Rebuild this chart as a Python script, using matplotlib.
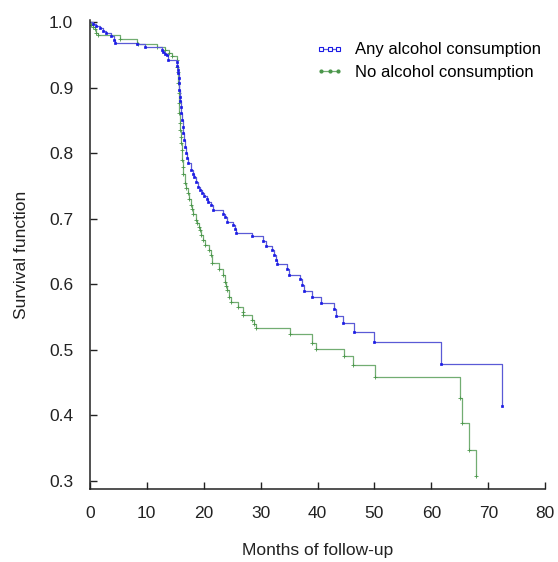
import matplotlib
matplotlib.use("Agg")
import matplotlib.pyplot as plt
from matplotlib.lines import Line2D

plt.rcParams['font.family'] = ['Liberation Sans', 'DejaVu Sans']

# Kaplan-Meier step points (months, survival after the drop)
any_months = [0.53, 1.11, 1.71, 2.29, 2.87, 3.64, 4.22, 4.34, 8.21, 9.67,
              12.61, 12.92, 13.19, 13.59, 13.77, 15.24, 15.35, 15.47, 15.53, 15.60,
              15.65, 15.74, 15.82, 15.89, 15.95, 16.04, 16.12, 16.30, 16.40, 16.53,
              16.70, 16.88, 17.05, 17.28, 17.71, 18.16, 18.37, 18.64, 19.04, 19.34,
              19.64, 20.04, 20.52, 20.84, 21.22, 21.68, 23.44, 23.74, 24.04, 25.09,
              25.49, 25.67, 28.43, 30.37, 30.89, 32.05, 32.35, 32.65, 32.83, 34.69,
              34.99, 36.84, 37.33, 37.63, 38.98, 40.56, 42.90, 43.29, 44.54, 46.45,
              49.97, 61.66, 72.39]
any_surv = [0.997, 0.994, 0.991, 0.987, 0.983, 0.979, 0.973, 0.969, 0.966, 0.962,
            0.957, 0.954, 0.952, 0.950, 0.943, 0.939, 0.933, 0.927, 0.922, 0.915,
            0.907, 0.896, 0.886, 0.880, 0.871, 0.861, 0.851, 0.840, 0.831, 0.820,
            0.809, 0.800, 0.793, 0.785, 0.774, 0.769, 0.764, 0.756, 0.749, 0.744,
            0.739, 0.735, 0.730, 0.725, 0.721, 0.713, 0.708, 0.703, 0.695, 0.690,
            0.684, 0.679, 0.673, 0.666, 0.659, 0.652, 0.645, 0.637, 0.631, 0.623,
            0.615, 0.608, 0.599, 0.590, 0.581, 0.572, 0.562, 0.552, 0.541, 0.528,
            0.512, 0.478, 0.414]

no_months = [0.26, 0.62, 0.88, 1.05, 1.46, 5.27, 8.26, 8.53, 11.78, 13.19,
             13.89, 14.36, 15.35, 15.38, 15.44, 15.53, 15.58, 15.65, 15.74, 15.82,
             15.91, 16.00, 16.05, 16.12, 16.23, 16.32, 16.44, 16.70, 16.97, 17.28,
             17.49, 17.71, 17.93, 18.16, 18.64, 18.90, 19.22, 19.34, 19.46, 19.92,
             20.22, 20.98, 21.22, 21.50, 22.68, 23.44, 23.74, 23.95, 24.14, 24.49,
             24.74, 26.07, 26.85, 26.99, 28.43, 28.84, 29.19, 35.16, 38.98, 39.74,
             44.71, 46.29, 50.11, 65.11, 65.46, 66.69, 67.87]
no_surv = [0.996, 0.992, 0.989, 0.984, 0.980, 0.975, 0.969, 0.966, 0.962, 0.957,
           0.953, 0.948, 0.942, 0.932, 0.924, 0.907, 0.892, 0.876, 0.861, 0.846,
           0.835, 0.825, 0.815, 0.805, 0.790, 0.779, 0.769, 0.754, 0.747, 0.739,
           0.730, 0.721, 0.715, 0.708, 0.698, 0.693, 0.688, 0.683, 0.675, 0.668,
           0.660, 0.652, 0.645, 0.632, 0.623, 0.614, 0.604, 0.597, 0.591, 0.581,
           0.573, 0.566, 0.558, 0.553, 0.546, 0.540, 0.533, 0.524, 0.511, 0.502,
           0.491, 0.477, 0.459, 0.427, 0.388, 0.347, 0.308]

blue_line = '#5a5ad6'
blue_mark = '#1a1ae6'
green_line = '#72ad72'
green_mark = '#4a964a'

fig = plt.figure(figsize=(5.58, 5.62), dpi=100)
ax = fig.add_axes([0.161, 0.130, 0.816, 0.834])

t_any = [0] + any_months
s_any = [1.0] + any_surv
t_no = [0] + no_months
s_no = [1.0] + no_surv

ax.step(t_no, s_no, where='post', color=green_line, lw=0.9)
ax.plot(no_months, no_surv, ls='none', marker='+', ms=2.5, mew=0.6, color=green_mark)
ax.step(t_any, s_any, where='post', color=blue_line, lw=0.9)
ax.plot(any_months, any_surv, ls='none', marker='s', ms=1.7, mew=0.5,
        mfc=blue_mark, mec=blue_mark)

ax.set_xlim(0, 80)
ax.set_ylim(0.2878, 1.003)
ax.set_xticks(range(0, 81, 10))
ax.set_yticks([0.3, 0.4, 0.5, 0.6, 0.7, 0.8, 0.9, 1.0])
ax.set_yticklabels(['0.3', '0.4', '0.5', '0.6', '0.7', '0.8', '0.9', '1.0'])
ax.tick_params(direction='in', length=5, width=1, labelsize=12.5, colors='#222222')
ax.tick_params(axis='x', pad=12)
ax.tick_params(axis='y', pad=12)
for side in ['top', 'right']:
    ax.spines[side].set_visible(False)
for side in ['left', 'bottom']:
    ax.spines[side].set_color('#222222')
    ax.spines[side].set_linewidth(1.1)

ax.set_xlabel('Months of follow-up', fontsize=12.5, color='#222222', labelpad=16)
ax.set_ylabel('Survival function', fontsize=12.5, color='#222222', labelpad=14)

handles = [
    Line2D([], [], color=blue_line, lw=0.9, marker='s', ms=3, mfc='white',
           mec=blue_mark, mew=0.8),
    Line2D([], [], color=green_line, lw=0.9, marker='o', ms=2, mfc=green_mark,
           mec=green_mark),
]
ax.legend(handles, ['Any alcohol consumption', 'No alcohol consumption'],
          loc='upper right', bbox_to_anchor=(1.005, 0.967), frameon=False,
          numpoints=3, fontsize=12, handlelength=1.6, handletextpad=0.7,
          labelspacing=0.45, borderaxespad=0.0)

fig.savefig('out.png', dpi=100)
